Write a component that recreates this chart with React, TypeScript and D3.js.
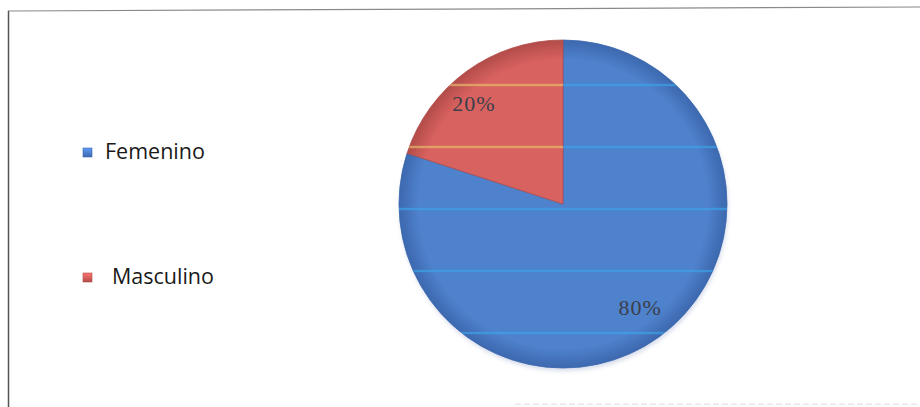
import React from "react";
import * as d3 from "d3";

const categories = ["Femenino", "Masculino"];
const values = [80, 20];
const labels = ["80%", "20%"];
const colors = ["#4f82cd", "#d8625f"];
const darkColors = ["#3c68ae", "#b24c49"];
const stripeColors = ["#3aa8ec", "#ecc870"];

const W = 920;
const H = 407;

export default function App() {
  const cx = 563;
  const cy = 204;
  const r = 164;
  const pie = d3.pie<number>().sort(null).value((d) => d);
  const arcs = pie(values);
  const arc = d3.arc<d3.PieArcDatum<number>>().innerRadius(0).outerRadius(r);
  const labelArc = d3.arc<d3.PieArcDatum<number>>().innerRadius(r * 0.8).outerRadius(r * 0.8);

  const stripeYs = d3.range(-119, r, 62);

  return (
    <svg width={W} height={H} style={{ position: "absolute", left: 0, top: 0 }}>
      <defs>
        {colors.map((c, i) => (
          <radialGradient key={i} id={`g${i}`} cx={0} cy={0} r={r} gradientUnits="userSpaceOnUse">
            <stop offset="0%" stopColor={c} />
            <stop offset="88%" stopColor={c} />
            <stop offset="100%" stopColor={darkColors[i]} />
          </radialGradient>
        ))}
        {arcs.map((a, i) => (
          <clipPath key={i} id={`c${i}`}>
            <path d={arc(a) || ""} />
          </clipPath>
        ))}
        {colors.map((c, i) => (
          <linearGradient key={i} id={`lg${i}`} x1="0" y1="0" x2="0" y2="1">
            <stop offset="0%" stopColor={d3.color(c)!.brighter(0.5).toString()} />
            <stop offset="100%" stopColor={darkColors[i]} />
          </linearGradient>
        ))}
        <filter id="sh" x="-20%" y="-20%" width="140%" height="140%">
          <feGaussianBlur stdDeviation="2" />
        </filter>
      </defs>
      <rect x={0} y={0} width={W} height={H} fill="#ffffff" />
      {/* frame */}
      <line x1={8} y1={11} x2={920} y2={7} stroke="#8a8a8a" strokeWidth={1.2} />
      <line x1={8.5} y1={11} x2={8.5} y2={407} stroke="#555" strokeWidth={1.5} />
      <line x1={515} y1={404} x2={920} y2={404} stroke="#e6e6e6" strokeWidth={1.5} strokeDasharray="6 3" />

      <g transform={`translate(${cx},${cy})`}>
        <circle cx={1} cy={3} r={r} fill="#b9c3dd" filter="url(#sh)" opacity={0.6} />
        {arcs.map((a, i) => (
          <path key={"p" + i} d={arc(a) || ""} fill={`url(#g${i})`} stroke={darkColors[i]} strokeWidth={0.8} />
        ))}
        {arcs.map((a, i) => (
          <g key={"s" + i} clipPath={`url(#c${i})`}>
            {stripeYs.map((y, j) => (
              <rect key={j} x={-r} y={y - 1.2} width={2 * r} height={2.4} fill={stripeColors[i]} opacity={0.6} />
            ))}
          </g>
        ))}
        {arcs.map((a, i) => {
          const [lx, ly] = labelArc.centroid(a);
          return (
            <text
              key={"t" + i}
              x={lx + (i === 1 ? -12 : 0)}
              y={ly + (i === 1 ? 8 : 0)}
              textAnchor="middle"
              dominantBaseline="middle"
              fontFamily="'Liberation Serif', 'DejaVu Serif', serif"
              fontSize={22}
              letterSpacing={1}
              fill="#3b3f4a"
            >
              {labels[i]}
            </text>
          );
        })}
      </g>

      {/* legend */}
      {categories.map((c, i) => (
        <g key={"l" + i} transform={`translate(83,${148 + i * 125})`}>
          <rect x={0} y={0} width={9} height={9} fill={`url(#lg${i})`} stroke={darkColors[i]} strokeWidth={0.6} />
          <text
            x={22 + i * 7}
            y={5}
            dominantBaseline="middle"
            fontFamily="'Open Sans', 'Noto Sans', sans-serif"
            fontSize={21.5}
            fill="#1a1a1a"
          >
            {c}
          </text>
        </g>
      ))}
    </svg>
  );
}
